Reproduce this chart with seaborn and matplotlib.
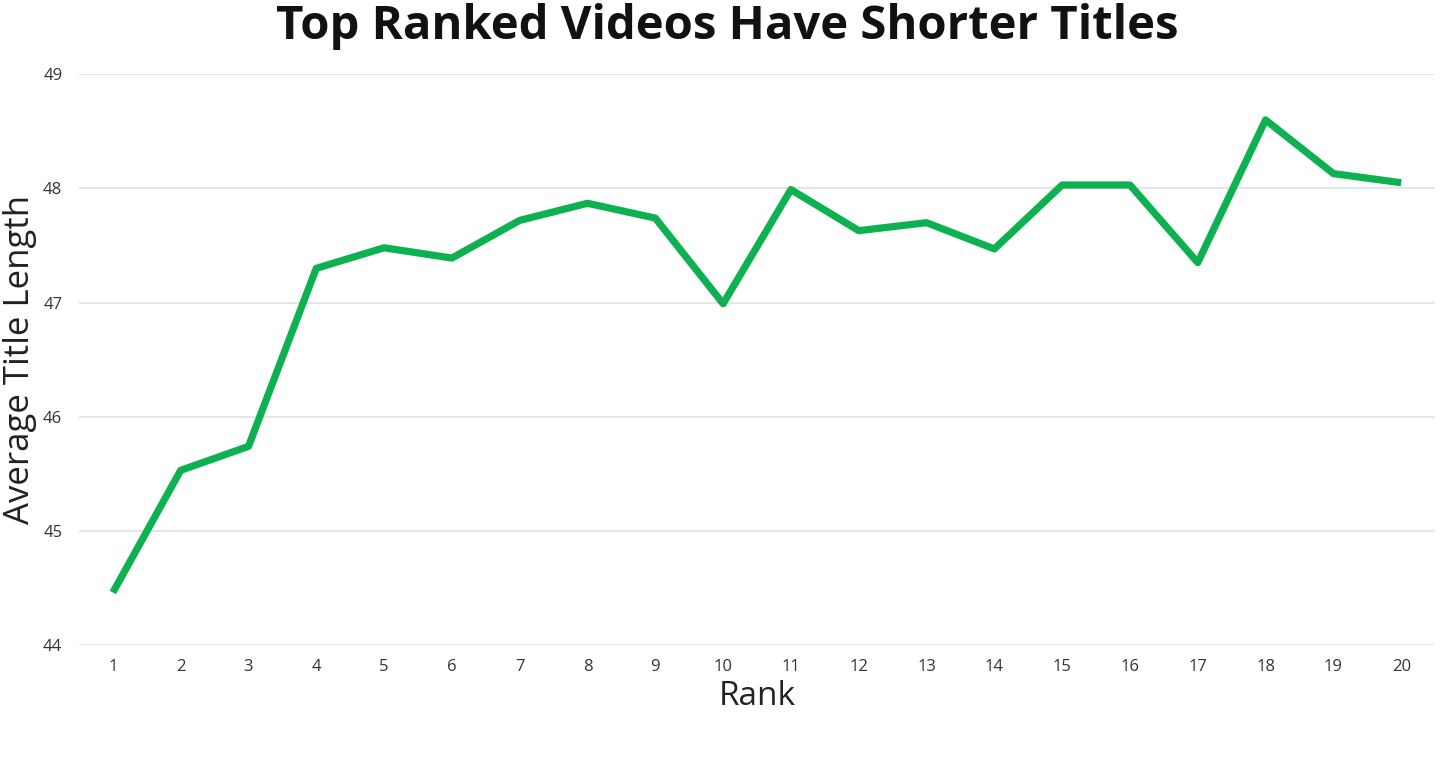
import pandas as pd
import matplotlib
matplotlib.use("Agg")
import matplotlib.pyplot as plt
import seaborn as sns

ranks = list(range(1, 21))
avg_title_length = [44.46, 45.53, 45.74, 47.30, 47.48, 47.39, 47.72, 47.87, 47.74, 46.99,
                     47.99, 47.63, 47.70, 47.47, 48.03, 48.03, 47.35, 48.60, 48.13, 48.05]
y_ticks = [44, 45, 46, 47, 48, 49]

df = pd.DataFrame({"Rank": ranks, "Average Title Length": avg_title_length})

sns.set_style("white")
plt.rcParams["font.family"] = ["Open Sans", "DejaVu Sans"]

fig = plt.figure(figsize=(14.54, 7.66), dpi=100)
ax = fig.add_axes([0.0543, 0.158, 0.9327, 0.745])

sns.lineplot(data=df, x="Rank", y="Average Title Length", ax=ax,
             color="#0db150", linewidth=5.2, solid_capstyle="butt")

ax.set_xlim(0.5, 20.5)
ax.set_ylim(44, 49)
ax.set_xticks(ranks)
ax.set_yticks(y_ticks)
ax.yaxis.grid(True, color="#dedede", linewidth=1.1)
ax.set_axisbelow(True)
for s in ax.spines.values():
    s.set_visible(False)
ax.tick_params(axis="both", length=0, labelsize=12, colors="#333333")
ax.tick_params(axis="x", pad=10)
ax.tick_params(axis="y", pad=12)

ax.set_xlabel("Rank", fontsize=24, color="#222222", labelpad=4)
ax.set_ylabel("Average Title Length", fontsize=25, color="#222222", labelpad=4)
fig.text(0.5, 0.966, "Top Ranked Videos Have Shorter Titles", ha="center", va="center",
         fontsize=34, fontweight="bold", color="#111111")

plt.savefig("out.png", dpi=100)
